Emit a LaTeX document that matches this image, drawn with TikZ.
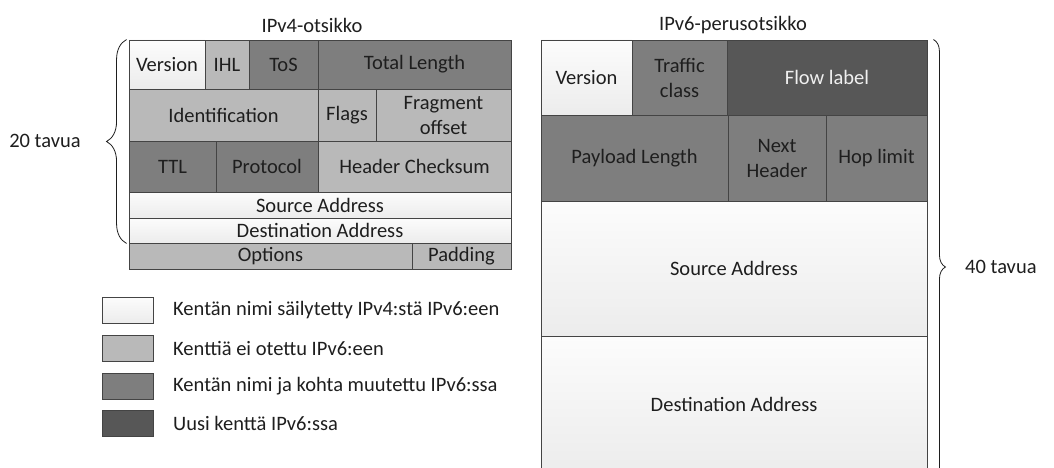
\documentclass[tikz,border=0pt]{standalone}
\usepackage{fontspec}
\setmainfont{Carlito}
\usetikzlibrary{decorations.pathreplacing}

\definecolor{keeptop}{HTML}{FCFCFC}
\definecolor{keepbot}{HTML}{ECECEC}
\definecolor{drop}{HTML}{B9B9B9}
\definecolor{moved}{HTML}{7E7E7E}
\definecolor{fresh}{HTML}{575757}
\definecolor{ink}{HTML}{1E1E1E}
\definecolor{rule}{HTML}{444444}

\tikzset{
  fld/.style={draw=rule,line width=0.9pt,inner sep=0pt,align=center,text=ink,
    font=\fontsize{20.5}{25}\selectfont},
  keep/.style={fld,top color=keeptop,bottom color=keepbot},
  drop/.style={fld,fill=drop},
  moved/.style={fld,fill=moved},
  fresh/.style={fld,fill=fresh,text=white!94!black},
  lbl/.style={text=ink,inner sep=0pt,font=\fontsize{20.5}{25}\selectfont},
  key/.style={draw=rule,line width=0.9pt,minimum width=51,minimum height=26,inner sep=0pt},
  curly/.style={decorate,draw=ink,line width=0.8pt}
}

\begin{document}
\begin{tikzpicture}[x=1pt,y=-1pt]
\useasboundingbox (0,0) rectangle (1054,468);

% IPv4 header
\node[lbl] (t4) at (312,25) {IPv4-otsikko};
\node[keep,minimum width=76,minimum height=49] (ver4) at (167,64.5) {Version};
\node[drop,minimum width=44,minimum height=49] (ihl) at (227,64.5) {IHL};
\node[moved,minimum width=69,minimum height=49] (tos) at (283.5,64.5) {ToS};
\node[moved,minimum width=193,minimum height=49] (totlen) at (414.5,64.5) {Total Length};
\node[drop,minimum width=189,minimum height=52] (ident) at (223.5,115) {Identification};
\node[drop,minimum width=58,minimum height=52] (flags) at (347,115) {Flags};
\node[drop,minimum width=135,minimum height=52] (fragoff) at (443.5,115) {Fragment\\offset};
\node[moved,minimum width=87,minimum height=51] (ttl) at (172.5,166.5) {TTL};
\node[moved,minimum width=102,minimum height=51] (proto) at (267,166.5) {Protocol};
\node[drop,minimum width=193,minimum height=51] (chksum) at (414.5,166.5) {Header Checksum};
\node[keep,minimum width=382,minimum height=26] (src4) at (320,205) {Source Address};
\node[keep,minimum width=382,minimum height=25] (dst4) at (320,230.5) {Destination Address};
\node[drop,minimum width=283,minimum height=26] (opts) at (270.5,256) {Options};
\node[drop,minimum width=99,minimum height=26] (pad) at (461.5,256) {Padding};

% IPv6 header
\node[lbl] (t6) at (733,25) {IPv6-perusotsikko};
\node[keep,minimum width=91,minimum height=75] (ver6) at (586.5,77.5) {Version};
\node[moved,minimum width=95,minimum height=75] (tclass) at (679.5,77.5) {Traffic\\class};
\node[fresh,minimum width=200,minimum height=75] (flow) at (827,77.5) {Flow label};
\node[moved,minimum width=187,minimum height=86] (paylen) at (634.5,158) {Payload Length};
\node[moved,minimum width=98,minimum height=86] (nexthdr) at (777,158) {Next\\Header};
\node[moved,minimum width=101,minimum height=86] (hoplim) at (876.5,158) {Hop limit};
\node[keep,minimum width=386,minimum height=135] (src6) at (734,268.5) {Source Address};
\node[keep,minimum width=386,minimum height=136] (dst6) at (734,404) {Destination Address};

% sizes
\draw[curly,decoration={brace,amplitude=20pt}] ([xshift=-2pt]dst4.south west) -- ([xshift=-2pt]ver4.north west);
\node[lbl] (b4) at (45,141) {20 tavua};
\draw[curly,decoration={brace,amplitude=12pt}] ([xshift=6pt]flow.north east) -- ([xshift=6pt,yshift=-22pt]dst6.south east);
\node[lbl,anchor=west] (b6) at (965,267) {40 tavua};

% legend
\node[key,top color=keeptop,bottom color=keepbot] (k1) at (127.5,310) {};
\node[key,fill=drop] (k2) at (127.5,348) {};
\node[key,fill=moved] (k3) at (127.5,386) {};
\node[key,fill=fresh] (k4) at (127.5,423) {};
\node[lbl,anchor=west] (l1) at (173,310) {Kentän nimi säilytetty IPv4:stä IPv6:een};
\node[lbl,anchor=west] (l2) at (173,348) {Kenttiä ei otettu IPv6:een};
\node[lbl,anchor=west] (l3) at (173,386) {Kentän nimi ja kohta muutettu IPv6:ssa};
\node[lbl,anchor=west] (l4) at (173,423) {Uusi kenttä IPv6:ssa};
\end{tikzpicture}
\end{document}
